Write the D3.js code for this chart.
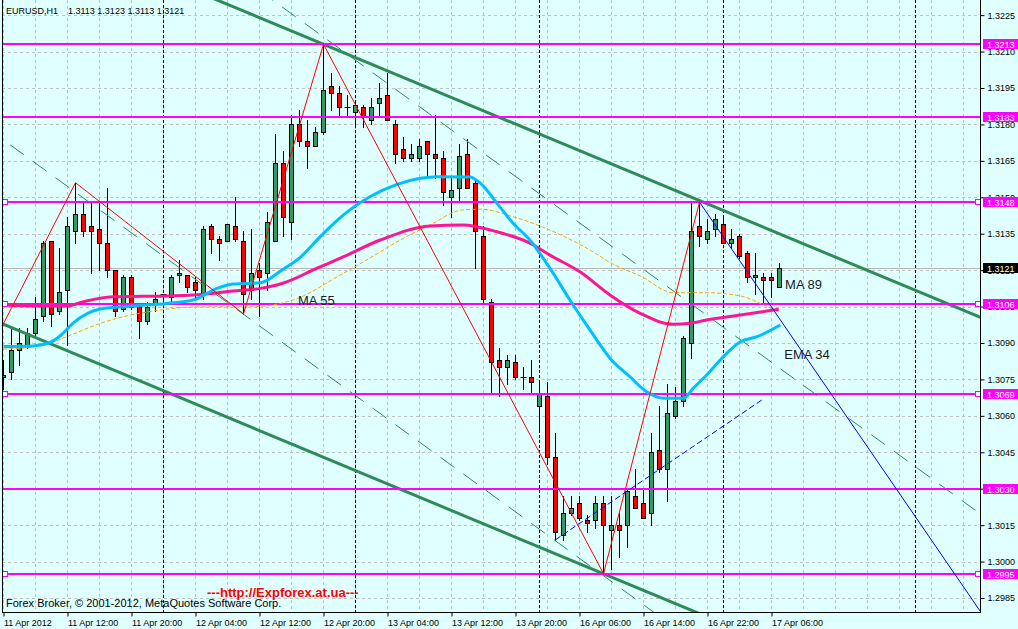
<!DOCTYPE html>
<html><head><meta charset="utf-8">
<script src="https://cdn.jsdelivr.net/npm/d3@7"></script>
<style>
html,body{margin:0;padding:0;background:#E0FFFF;}
svg{display:block;font-family:"Liberation Sans",Arial,sans-serif;}
</style>
</head><body><svg id="c" width="1018" height="629"></svg>
<script>
// ---------------- data ----------------
const symbolTitle = "EURUSD,H1";
const quoteTitle = "1.3113 1.3123 1.3113 1.3121";
const copyrightText = "Forex Broker, \u00A9 2001-2012, MetaQuotes Software Corp.";
const urlText = "---http://Expforex.at.ua---";

const opens  = [1.3076,1.3078,1.3087,1.3089,1.3094,1.3101,1.3132,1.3103,1.3112,1.3136,
                1.3143,1.3138,1.3137,1.3131,1.3120,1.3104,1.3117,1.3106,1.3099,1.3106,
                1.3110,1.3109,1.3118,1.3118,1.3115,1.3110,1.3138,1.3133,1.3132,1.3138,
                1.3132,1.3112,1.3120,1.3119,1.3132,1.3164,1.3140,1.3180,1.3173,1.3171,
                1.3177,1.3196,1.3193,1.3187,1.3185,1.3187,1.3182,1.3189,1.3192,1.3180,
                1.3170,1.3166,1.3166,1.3173,1.3168,1.3166,1.3150,1.3154,1.3168,1.3156,
                1.3134,1.3107,1.3083,1.3080,1.3082,1.3076,1.3076,1.3064,1.3068,1.3043,
                1.3011,1.3020,1.3024,1.3017,1.3017,1.3024,1.3013,1.3015,1.3015,1.3027,
                1.3024,1.3020,1.3046,1.3038,1.3060,1.3066,1.3090,1.3138,1.3133,1.3137,
                1.3139,1.3131,1.3134,1.3127,1.3117,1.3117,1.3117,1.3113];
const highs  = [1.3083,1.3096,1.3096,1.3096,1.3109,1.3132,1.3132,1.3129,1.3142,1.3156,
                1.3148,1.3148,1.3148,1.3154,1.3120,1.3118,1.3118,1.3106,1.3107,1.3111,
                1.3110,1.3118,1.3124,1.3118,1.3117,1.3138,1.3139,1.3134,1.3139,1.3150,
                1.3136,1.3137,1.3123,1.3144,1.3176,1.3169,1.3184,1.3186,1.3182,1.3179,
                1.3213,1.3201,1.3196,1.3192,1.3189,1.3188,1.3191,1.3197,1.3201,1.3182,
                1.3175,1.3172,1.3174,1.3173,1.3184,1.3169,1.3158,1.3172,1.3174,1.3157,
                1.3138,1.3108,1.3088,1.3085,1.3085,1.3080,1.3083,1.3074,1.3074,1.3053,
                1.3027,1.3027,1.3027,1.3019,1.3027,1.3027,1.3027,1.3020,1.3030,1.3038,
                1.3030,1.3053,1.3064,1.3073,1.3072,1.3093,1.3148,1.3148,1.3141,1.3143,
                1.3142,1.3137,1.3135,1.3128,1.3127,1.3119,1.3119,1.3123];
const lows   = [1.3071,1.3075,1.3081,1.3088,1.3092,1.3099,1.3097,1.3102,1.3089,1.3131,
                1.3134,1.3119,1.3120,1.3117,1.3101,1.3103,1.3104,1.3092,1.3098,1.3103,
                1.3105,1.3106,1.3115,1.3111,1.3108,1.3108,1.3127,1.3124,1.3132,1.3132,
                1.3102,1.3108,1.3101,1.3112,1.3132,1.3134,1.3133,1.3171,1.3162,1.3171,
                1.3176,1.3186,1.3183,1.3183,1.3180,1.3179,1.3180,1.3184,1.3182,1.3164,
                1.3165,1.3165,1.3165,1.3158,1.3158,1.3147,1.3142,1.3148,1.3154,1.3121,
                1.3106,1.3070,1.3068,1.3073,1.3075,1.3071,1.3070,1.3054,1.3040,1.3009,
                1.3009,1.3019,1.3017,1.3012,1.3014,1.2995,1.2997,1.3002,1.3006,1.3022,
                1.3018,1.3015,1.3037,1.3025,1.3059,1.3064,1.3084,1.3130,1.3131,1.3134,
                1.3131,1.3129,1.3125,1.3115,1.3110,1.3106,1.3109,1.3113];
const closes = [1.3077,1.3087,1.3090,1.3094,1.3100,1.3131,1.3102,1.3111,1.3138,1.3143,
                1.3136,1.3136,1.3131,1.3120,1.3103,1.3117,1.3105,1.3099,1.3105,1.3108,
                1.3110,1.3117,1.3119,1.3113,1.3112,1.3137,1.3133,1.3131,1.3139,1.3133,
                1.3110,1.3119,1.3117,1.3140,1.3164,1.3142,1.3180,1.3173,1.3171,1.3177,
                1.3194,1.3193,1.3187,1.3187,1.3188,1.3183,1.3187,1.3191,1.3182,1.3168,
                1.3166,1.3168,1.3171,1.3168,1.3166,1.3152,1.3153,1.3167,1.3154,1.3136,
                1.3108,1.3082,1.3080,1.3083,1.3076,1.3076,1.3074,1.3069,1.3043,1.3012,
                1.3020,1.3022,1.3018,1.3016,1.3024,1.3015,1.3015,1.3013,1.3029,1.3022,
                1.3018,1.3045,1.3038,1.3061,1.3066,1.3092,1.3136,1.3134,1.3136,1.3141,
                1.3131,1.3133,1.3126,1.3117,1.3118,1.3116,1.3116,1.3121];

const timeTickIndex  = [0,8,16,24,32,40,48,56,64,72,80,88,96];
const timeTickLabels = ["11 Apr 2012","11 Apr 12:00","11 Apr 20:00","12 Apr 04:00","12 Apr 12:00",
                        "12 Apr 20:00","13 Apr 04:00","13 Apr 12:00","13 Apr 20:00","16 Apr 06:00",
                        "16 Apr 14:00","16 Apr 22:00","17 Apr 06:00"];
const daySeparators = [20,44,67,90,114];
const priceTicks = [1.3225,1.3210,1.3195,1.3180,1.3165,1.3150,1.3135,1.3120,1.3105,
                    1.3090,1.3075,1.3060,1.3045,1.3030,1.3015,1.3000,1.2985];
const levels        = [1.3213,1.3183,1.3148,1.3106,1.3069,1.3030,1.2995];
const levelAnchored = [false,false,true,true,true,false,true];
const currentPrice = 1.3121;

// indicator lines: [bar index, price]
const ema34 = [[0,1.30886],[3.7,1.30888],[5.8,1.30902],[7.1,1.30930],[8.7,1.30982],[12.1,1.31040],
  [16.2,1.31052],[20.4,1.31063],[23.7,1.31077],[26.7,1.31125],[28.7,1.31143],[32.1,1.31148],
  [34.9,1.31203],[37.1,1.31253],[39.6,1.31338],[42.1,1.31416],[43.3,1.31448],[45.8,1.31502],
  [49.2,1.31553],[52.1,1.31578],[54.2,1.31585],[58.3,1.31584],[59.6,1.31558],[61.7,1.31475],
  [63.7,1.31393],[65.8,1.31324],[68.3,1.31208],[70.8,1.31077],[73.3,1.30954],[76.0,1.30830],
  [78.3,1.30761],[80.4,1.30699],[82.5,1.30672],[85.0,1.30672],[86.2,1.30713],[87.9,1.30768],
  [90.0,1.30844],[92.1,1.30905],[94.2,1.30926],[97.1,1.30974]];
const ma89 = [[0,1.31056],[4.6,1.31052],[7.9,1.31052],[9.9,1.31069],[13.3,1.31089],[20.4,1.31094],
  [23.7,1.31098],[28.7,1.31114],[32.1,1.31125],[34.9,1.31146],[39.2,1.31208],[42.1,1.31249],
  [47.1,1.31324],[53.3,1.31382],[57.4,1.31386],[61.7,1.31358],[65.8,1.31311],[68.3,1.31262],
  [72.1,1.31192],[75.8,1.31098],[79.6,1.31022],[83.7,1.30977],[85.8,1.30981],[87.9,1.30995],
  [92.1,1.31015],[96.9,1.31039]];
const ma55 = [[0,1.30875],[3.7,1.30884],[5.8,1.30900],[7.9,1.30926],[12.1,1.30981],[19.6,1.31036],
  [24.6,1.31049],[30.8,1.31049],[36.2,1.31077],[42.1,1.31180],[45.8,1.31250],[49.6,1.31324],
  [53.3,1.31386],[57.4,1.31448],[59.6,1.31451],[63.7,1.31420],[68.3,1.31365],[73.3,1.31283],
  [76.4,1.31221],[79.6,1.31176],[83.7,1.31107],[87.9,1.31107],[92.1,1.31094],[94.6,1.31063],
  [96.8,1.31029]];
const zigzag = [[0,1.3098],[9,1.3156],[30,1.3102],[40,1.3213],[75,1.2995],[87,1.3148]];
const channelUpper = [[40,1.3213],[86,1.3150]];
const channelLowerAnchor = [75,1.2995];
const dashChannelA = [[0,1.31736],[80,1.29822]];
const dashChannelB = [[40,1.32160],[100,1.30725]];
const trendBlue = [[87,1.3148],[107,1.3052]];
const trendBlueDash = [[69,1.3009],[95,1.3067]];
const maLabels = [["MA 55",36.8,1.31056],["MA 89",97.7,1.31122],["EMA 34",97.6,1.30834]];

// ---------------- drawing ----------------
const svg = d3.select("#c");
const W = 1018, H = 629;
const plotL = 2, plotR = 980, plotT = 0, plotB = 612;
const x = d3.scaleLinear().domain([0,122]).range([3.5, 3.5+8*122]);
const y = d3.scaleLinear().domain([1.2985,1.3225]).range([598,15.14]);
const fmt = d3.format(".4f");

svg.append("rect").attr("width",W).attr("height",H).attr("fill","#E0FFFF");
svg.append("defs").append("clipPath").attr("id","clip")
  .append("rect").attr("x",plotL).attr("y",plotT).attr("width",plotR-plotL).attr("height",plotB-plotT);
const plot = svg.append("g").attr("clip-path","url(#clip)");

// grid
const gridX = d3.range(0,124,4);
plot.append("g").selectAll("line").data(gridX).join("line")
  .attr("x1",d=>x(d)).attr("x2",d=>x(d)).attr("y1",plotT).attr("y2",plotB)
  .attr("stroke","#C0C0C0").attr("stroke-dasharray","3,3");
plot.append("g").selectAll("line").data(priceTicks).join("line")
  .attr("x1",plotL).attr("x2",plotR).attr("y1",d=>Math.round(y(d))+0.5).attr("y2",d=>Math.round(y(d))+0.5)
  .attr("stroke","#C0C0C0").attr("stroke-dasharray","3,3");
// day separators
plot.append("g").selectAll("line").data(daySeparators).join("line")
  .attr("x1",d=>x(d)).attr("x2",d=>x(d)).attr("y1",plotT).attr("y2",plotB)
  .attr("stroke","#000").attr("stroke-dasharray","3,2");
// bid line
plot.append("line").attr("x1",plotL).attr("x2",plotR)
  .attr("y1",Math.round(y(currentPrice))+0.5).attr("y2",Math.round(y(currentPrice))+0.5)
  .attr("stroke","#B4B4B4");

// helper: infinite line through two data points
function extLine(p1,p2,dy){
  const s=(p2[1]-p1[1])/(p2[0]-p1[0]);
  const a=-2,b=126;
  return [[a,p1[1]+s*(a-p1[0])+(dy||0)],[b,p1[1]+s*(b-p1[0])+(dy||0)]];
}
const lineGen = d3.line().x(d=>x(d[0])).y(d=>y(d[1]));
const curveGen = d3.line().x(d=>x(d[0])).y(d=>y(d[1])).curve(d3.curveMonotoneX);

// candles
const candles = d3.range(opens.length).map(i=>({i,o:opens[i],h:highs[i],l:lows[i],c:closes[i]}));
const cg = plot.append("g");
candles.forEach(d=>{
  const cx = x(d.i);
  cg.append("line").attr("x1",cx).attr("x2",cx)
    .attr("y1",Math.round(y(d.h))).attr("y2",Math.round(y(d.l))+1).attr("stroke","#000");
  const yo=Math.round(y(d.o))+0.5, yc=Math.round(y(d.c))+0.5;
  if (Math.abs(yo-yc)<1){
    cg.append("line").attr("x1",cx-3).attr("x2",cx+3).attr("y1",yo).attr("y2",yo).attr("stroke","#000");
  } else {
    cg.append("rect").attr("x",cx-2).attr("width",4)
      .attr("y",Math.min(yo,yc)).attr("height",Math.abs(yo-yc))
      .attr("fill", d.c>=d.o ? "#339966" : "#FF0000").attr("stroke","#000");
  }
});

// dashed green channel lines
[dashChannelA,dashChannelB].forEach(p=>{
  plot.append("path").attr("d",lineGen(extLine(p[0],p[1]))).attr("fill","none")
    .attr("stroke","#2E8B57").attr("stroke-width",1).attr("stroke-dasharray","17,11");
});
// main channel
const off = channelLowerAnchor[1] - (channelUpper[0][1] + (channelUpper[1][1]-channelUpper[0][1])/(channelUpper[1][0]-channelUpper[0][0])*(channelLowerAnchor[0]-channelUpper[0][0]));
plot.append("path").attr("d",lineGen(extLine(channelUpper[0],channelUpper[1]))).attr("fill","none")
  .attr("stroke","#2E8B57").attr("stroke-width",3);
plot.append("path").attr("d",lineGen(extLine(channelUpper[0],channelUpper[1],off))).attr("fill","none")
  .attr("stroke","#2E8B57").attr("stroke-width",3);

// horizontal levels
plot.append("g").selectAll("line").data(levels).join("line")
  .attr("x1",plotL).attr("x2",plotR).attr("y1",d=>Math.round(y(d))).attr("y2",d=>Math.round(y(d)))
  .attr("stroke","#FF00FF").attr("stroke-width",2);

// moving averages
plot.append("path").attr("d",curveGen(ma55)).attr("fill","none").attr("stroke","#FFA500")
  .attr("stroke-width",1).attr("stroke-dasharray","4,2");
plot.append("path").attr("d",curveGen(ma89)).attr("fill","none").attr("stroke","#FF1493").attr("stroke-width",3);
plot.append("path").attr("d",curveGen(ema34)).attr("fill","none").attr("stroke","#00BFFF").attr("stroke-width",3);

// zigzag
plot.append("path").attr("d",lineGen(zigzag)).attr("fill","none").attr("stroke","#FF0000").attr("stroke-width",1);
// blue trend lines
plot.append("path").attr("d",lineGen([trendBlue[0],extLine(trendBlue[0],trendBlue[1])[1]])).attr("fill","none")
  .attr("stroke","#0000FF").attr("stroke-width",1);
plot.append("path").attr("d",lineGen(trendBlueDash)).attr("fill","none")
  .attr("stroke","#0000FF").attr("stroke-width",1).attr("stroke-dasharray","6,3");

// level anchor squares
levels.forEach((lv,i)=>{
  if(!levelAnchored[i]) return;
  [plotL+3, plotR-2].forEach(px=>{
    svg.append("rect").attr("x",px-2.5).attr("y",Math.round(y(lv))-2.5).attr("width",5).attr("height",5)
      .attr("fill","#E0FFFF").attr("stroke","#FF00FF");
  });
});

// indicator labels
svg.append("g").selectAll("text").data(maLabels).join("text")
  .attr("x",d=>x(d[1])).attr("y",d=>y(d[2])).text(d=>d[0])
  .attr("font-size",13).attr("fill","#1a1a1a");

// frame
svg.append("line").attr("x1",plotL+0.5).attr("x2",plotL+0.5).attr("y1",0).attr("y2",plotB).attr("stroke","#000");
svg.append("line").attr("x1",plotR+0.5).attr("x2",plotR+0.5).attr("y1",0).attr("y2",plotB+0.5).attr("stroke","#000");
svg.append("line").attr("x1",plotL).attr("x2",plotR+1).attr("y1",plotB+0.5).attr("y2",plotB+0.5).attr("stroke","#000");

// right price axis
const yAxis = d3.axisRight(y).tickValues(priceTicks).tickFormat(fmt).tickSize(4).tickPadding(3);
const ya = svg.append("g").attr("transform",`translate(${plotR+0.5},0)`).call(yAxis);
ya.select(".domain").remove();
ya.selectAll("text").attr("font-size",9).attr("font-family","'Liberation Sans',Arial,sans-serif").attr("fill","#000");

// bottom time axis
const xAxis = d3.axisBottom(x).tickValues(timeTickIndex).tickFormat((d,i)=>timeTickLabels[i]).tickSize(4).tickPadding(3);
const xa = svg.append("g").attr("transform",`translate(0,${plotB+0.5})`).call(xAxis);
xa.select(".domain").remove();
xa.selectAll("text").attr("font-size",9).attr("text-anchor","start").attr("x",0)
  .attr("font-family","'Liberation Sans',Arial,sans-serif").attr("fill","#000");

// price label boxes
const boxes = levels.map(v=>({v,bg:"#FF00FF"})).concat([{v:currentPrice,bg:"#000"}]);
const bg = svg.append("g").selectAll("g").data(boxes).join("g")
  .attr("transform",d=>`translate(983,${Math.round(y(d.v))})`);
bg.append("rect").attr("x",0).attr("y",-5).attr("width",35).attr("height",10).attr("fill",d=>d.bg);
bg.append("text").attr("x",4).attr("y",3.5).text(d=>fmt(d.v)).attr("font-size",9).attr("fill","#fff");

// titles / notes
svg.append("text").attr("x",6).attr("y",14).text(symbolTitle).attr("font-size",9).attr("fill","#000");
svg.append("text").attr("x",68).attr("y",14).text(quoteTitle).attr("font-size",9).attr("fill","#000");
svg.append("text").attr("x",6).attr("y",607).text(copyrightText).attr("font-size",11).attr("fill","#000");
svg.append("text").attr("x",207).attr("y",597).text(urlText).attr("font-size",13).attr("font-weight","bold").attr("fill","#FF0000");
</script>
</body></html>
